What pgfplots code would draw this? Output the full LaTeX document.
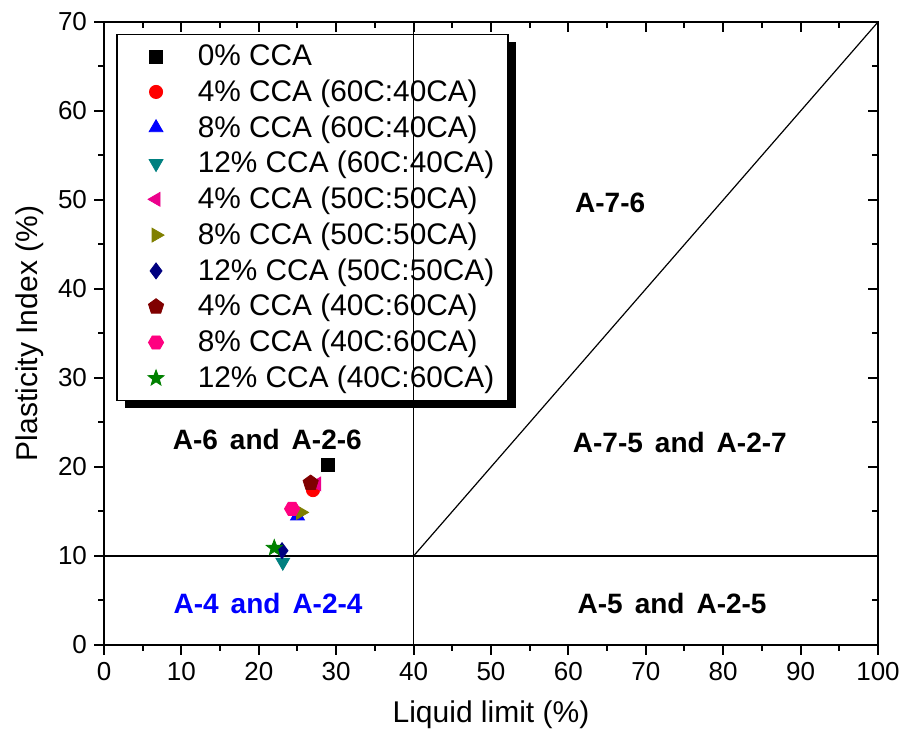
\documentclass[border=0pt]{standalone}
\usepackage{pgfplots}
\pgfplotsset{compat=1.18}
\usepackage{fontspec}
\setmainfont{Liberation Sans}
\usetikzlibrary{shadows,plotmarks}
\definecolor{cteal}{RGB}{0,128,128}
\definecolor{colive}{RGB}{128,128,0}
\definecolor{cnavy}{RGB}{0,0,128}
\definecolor{cmaroon}{RGB}{128,0,0}
\definecolor{cpink}{RGB}{255,0,128}
\definecolor{cgreen}{RGB}{0,128,0}
\pgfdeclareplotmark{hexagon*}{%
  \pgfpathmoveto{\pgfqpointpolar{0}{\pgfplotmarksize}}%
  \pgfpathlineto{\pgfqpointpolar{60}{\pgfplotmarksize}}%
  \pgfpathlineto{\pgfqpointpolar{120}{\pgfplotmarksize}}%
  \pgfpathlineto{\pgfqpointpolar{180}{\pgfplotmarksize}}%
  \pgfpathlineto{\pgfqpointpolar{240}{\pgfplotmarksize}}%
  \pgfpathlineto{\pgfqpointpolar{300}{\pgfplotmarksize}}%
  \pgfpathclose\pgfusepathqfillstroke}
\pgfdeclareplotmark{fstar}{%
  \pgfpathmoveto{\pgfpointpolar{90}{\pgfplotmarksize}}%
  \pgfpathlineto{\pgfpointpolar{126}{0.42\pgfplotmarksize}}%
  \pgfpathlineto{\pgfpointpolar{162}{\pgfplotmarksize}}%
  \pgfpathlineto{\pgfpointpolar{198}{0.42\pgfplotmarksize}}%
  \pgfpathlineto{\pgfpointpolar{234}{\pgfplotmarksize}}%
  \pgfpathlineto{\pgfpointpolar{270}{0.42\pgfplotmarksize}}%
  \pgfpathlineto{\pgfpointpolar{306}{\pgfplotmarksize}}%
  \pgfpathlineto{\pgfpointpolar{342}{0.42\pgfplotmarksize}}%
  \pgfpathlineto{\pgfpointpolar{18}{\pgfplotmarksize}}%
  \pgfpathlineto{\pgfpointpolar{54}{0.42\pgfplotmarksize}}%
  \pgfpathclose\pgfusepathqfillstroke}
\begin{document}
\begin{tikzpicture}
\useasboundingbox (-52pt,-48.5pt) rectangle (399pt,322.5pt);
\begin{axis}[
  at={(0,0)}, anchor=south west,
  scale only axis, width=387pt, height=311.5pt,
  xmin=0, xmax=100, ymin=0, ymax=70,
  xtick={0,10,...,100}, ytick={0,10,...,70},
  minor x tick num=1, minor y tick num=1,
  xtick pos=left, ytick pos=left, tick align=outside,
  major tick length=5pt, minor tick length=3pt,
  tick style={line width=1pt, black},
  axis line style={line width=1.2pt},
  ticklabel style={font=\fontsize{13}{15}\selectfont},
  /pgf/number format/assume math mode=true,
  xlabel={Liquid limit (\%)}, ylabel={Plasticity Index (\%)},
  label style={font=\fontsize{15}{17}\selectfont},
  xlabel style={at={(axis description cs:0.5,-0.1124)}, anchor=center},
  ylabel style={at={(axis description cs:-0.0956,0.5)}, anchor=center},
  legend style={at={(rel axis cs:0.0155,0.981)}, anchor=north west,
    draw=black, line width=0.8pt, fill=white,
    font=\fontsize{14.9}{17}\selectfont, row sep=1.6pt,
    inner xsep=5pt, inner ysep=3pt,
    drop shadow={shadow xshift=4pt, shadow yshift=-3.5pt, opacity=1, fill=black}},
  legend cell align=left,
  legend image code/.code={\path (0cm,0cm) (1.15cm,0cm); \draw[#1,line width=0.4pt] plot coordinates {(0.5cm,0cm)};},
]
\addplot[black, line width=0.6pt, no markers, forget plot] coordinates {(0,10) (100,10)};
\addplot[black, line width=0.6pt, no markers, forget plot] coordinates {(40,10) (100,70)};
\addplot[only marks, mark=square*, mark size=3.2pt, black, fill=black] coordinates {(28.9,20.2)};
\addlegendentry{0\% CCA}
\addplot[only marks, mark=*, mark size=3.3pt, red, fill=red] coordinates {(27.0,17.4)};
\addlegendentry{4\% CCA (60C:40CA)}
\addplot[only marks, mark=triangle*, mark size=4pt, blue, fill=blue] coordinates {(25.0,14.5)};
\addlegendentry{8\% CCA (60C:40CA)}
\addplot[only marks, mark=triangle*, mark size=4pt, cteal, fill=cteal, mark options={rotate=180}] coordinates {(23.1,9.3)};
\addlegendentry{12\% CCA (60C:40CA)}
\addplot[only marks, mark=triangle*, mark size=4pt, magenta, fill=magenta, mark options={rotate=90}] coordinates {(27.5,18.1)};
\addlegendentry{4\% CCA (50C:50CA)}
\addplot[only marks, mark=triangle*, mark size=4pt, colive, fill=colive, mark options={rotate=-90}] coordinates {(25.4,14.9)};
\addlegendentry{8\% CCA (50C:50CA)}
\addplot[only marks, mark=diamond*, mark size=4pt, cnavy, fill=cnavy] coordinates {(23.0,10.6)};
\addlegendentry{12\% CCA (50C:50CA)}
\addplot[only marks, mark=pentagon*, mark size=4pt, cmaroon, fill=cmaroon] coordinates {(26.7,18.2)};
\addlegendentry{4\% CCA (40C:60CA)}
\addplot[only marks, mark=hexagon*, mark size=3.8pt, cpink, fill=cpink] coordinates {(24.3,15.3)};
\addlegendentry{8\% CCA (40C:60CA)}
\addplot[only marks, mark=fstar, mark size=4.2pt, cgreen, fill=cgreen] coordinates {(22.0,10.9)};
\addlegendentry{12\% CCA (40C:60CA)}
\node[font=\bfseries\fontsize{14}{16}\selectfont] at (axis cs:65.4,49.7) {A-7-6};
\node[font=\bfseries\fontsize{14}{16}\selectfont] at (axis cs:74.4,22.7) {A-7-5\hspace{6pt}and\hspace{6pt}A-2-7};
\node[font=\bfseries\fontsize{14}{16}\selectfont] at (axis cs:21.1,23.1) {A-6\hspace{6pt}and\hspace{6pt}A-2-6};
\node[font=\bfseries\fontsize{14}{16}\selectfont, text=blue] at (axis cs:21.2,4.7) {A-4\hspace{6pt}and\hspace{6pt}A-2-4};
\node[font=\bfseries\fontsize{14}{16}\selectfont] at (axis cs:73.4,4.7) {A-5\hspace{6pt}and\hspace{6pt}A-2-5};
\end{axis}
\begin{axis}[
  at={(0,0)}, anchor=south west,
  scale only axis, width=387pt, height=311.5pt,
  xmin=0, xmax=100, ymin=0, ymax=70,
  xtick={0,10,...,100}, ytick={0,10,...,70},
  minor x tick num=1, minor y tick num=1,
  xtick pos=right, ytick pos=right, tick align=inside,
  major tick length=5pt, minor tick length=3pt,
  tick style={line width=1pt, black},
  axis line style={line width=1.2pt},
  xticklabels={}, yticklabels={},
]
\addplot[black, line width=0.6pt, no markers] coordinates {(40,0) (40,70)};
\end{axis}
\end{tikzpicture}
\end{document}
